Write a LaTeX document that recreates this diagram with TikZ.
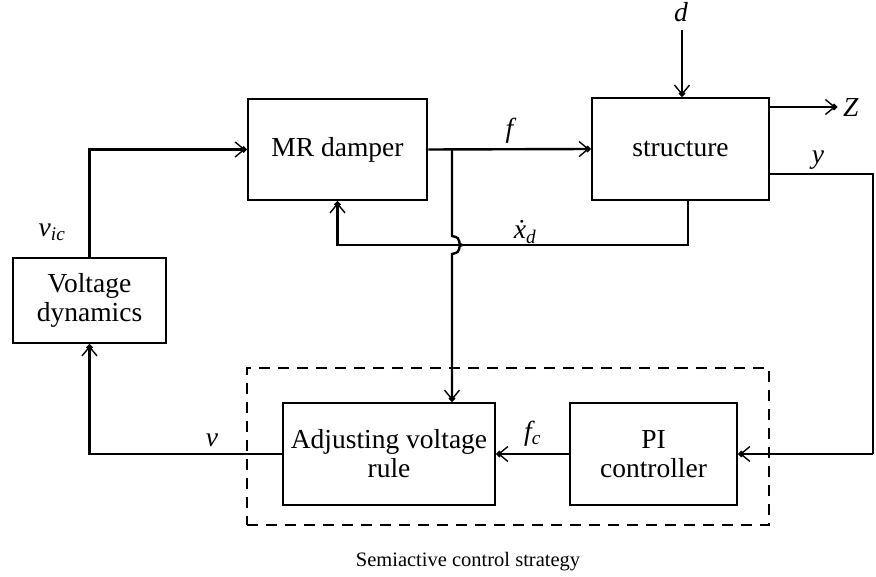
\documentclass[tikz,border=0pt]{standalone}
\usepackage{fontspec}
\setmainfont{Liberation Serif}
\usetikzlibrary{arrows.meta}
\begin{document}
\begin{tikzpicture}[x=1pt,y=-1pt,
  blk/.style={draw, line width=2.6pt, align=center, inner sep=0pt,
    font=\fontsize{27.5}{29}\selectfont},
  lbl/.style={font=\fontsize{27.5}{29}\selectfont\itshape, inner sep=0pt},
  wire/.style={line width=2.4pt},
  arr/.style={wire, -{Straight Barb[length=9pt,width=15pt,line width=1.4pt,sep=-4.5pt] Circle[length=6pt]}}]
\useasboundingbox (0,0) rectangle (876,577);
% blocks
\node[blk, minimum width=179pt, minimum height=101pt] (MR) at (337.5,149.5) {MR damper};
\node[blk, minimum width=177pt, minimum height=102pt] (ST) at (680.5,149) {structure};
\node[blk, minimum width=153pt, minimum height=85pt] (VD) at (89.5,300.5) {Voltage\\dynamics};
\node[blk, minimum width=212pt, minimum height=102pt] (AD) at (389,454) {Adjusting voltage\\rule};
\node[blk, minimum width=167pt, minimum height=102pt] (PI) at (653.5,454) {PI\\controller};
% dashed frame
\node[draw, dash pattern=on 11pt off 8pt, line width=2.4pt, minimum width=522pt, minimum height=157pt, inner sep=0pt] (SA) at (508,446.5) {};
\node[font=\fontsize{20.5}{22}\selectfont, inner sep=0pt] (cap) at (468,562) {Semiactive control strategy};
% coordinates
\coordinate (br) at (452,149.5);
\coordinate (j1) at (452,236);
\coordinate (j2) at (452,254);
\coordinate (xs) at (688,200);
\coordinate (xc) at (688,245);
\coordinate (xm) at (337.5,245);
\coordinate (din) at (682,30);
\coordinate (zo) at (837,107);
\coordinate (y1) at (873,174);
\coordinate (y2) at (873,454);
% connectors
\draw[arr] (VD.north) -- (VD.north |- MR.west) -- (MR.west);
\draw[arr] (MR.east) -- (ST.west) node[lbl, midway, above=5pt] {f};
\draw[arr] (br) -- (j1) .. controls (464,238) and (456,245) .. (462,245) .. controls (456,245) and (464,252) .. (j2) -- (j2 |- AD.north);
\draw[arr] (xs) -- (xc) -- (xm) -- (MR.south);
\node[lbl] at (525,232) {\.{x}\textsubscript{d}};
\draw[arr] (din) -- (din |- ST.north);
\node[lbl] at (681,12) {d};
\draw[arr] (ST.east |- zo) -- (zo);
\node[lbl, anchor=west] at (843,107) {Z};
\draw[wire] (ST.east |- y1) -- (y1) -- (y2);
\draw[arr] (y2) -- (PI.east);
\node[lbl] at (818,160) {y};
\draw[arr] (PI.west) -- (AD.east) node[lbl, midway, above=6pt] {f\textsubscript{c}};
\draw[arr] (AD.west) -- (VD.south |- AD.west) -- (VD.south);
\node[lbl] at (212,440) {v};
\node[lbl] at (52,232) {v\textsubscript{ic}};
\end{tikzpicture}
\end{document}
